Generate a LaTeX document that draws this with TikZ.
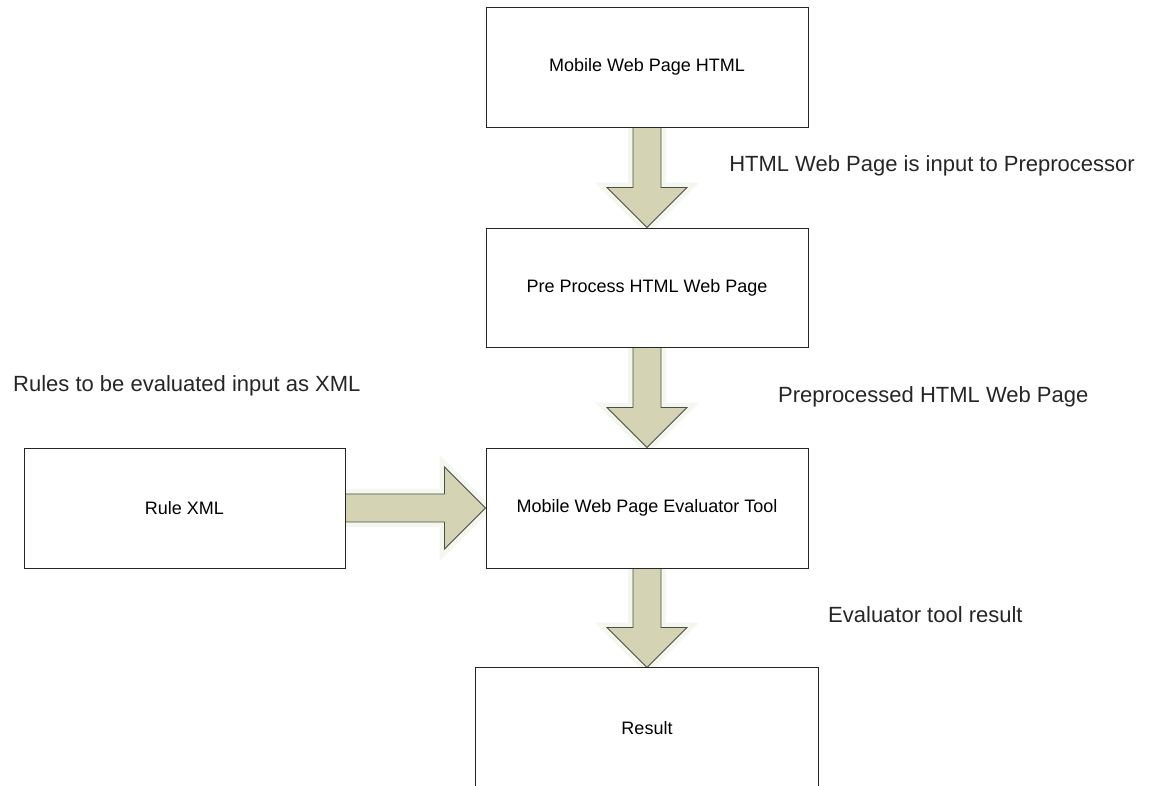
\documentclass[tikz,border=0pt]{standalone}
\usepackage{fontspec}
\setmainfont{Liberation Sans}
\usetikzlibrary{calc,backgrounds}
\definecolor{arrowfill}{RGB}{212,212,180}
\definecolor{arrowglow}{RGB}{243,247,237}
\tikzset{
    box/.style={draw=black!85, fill=white, line width=0.9pt, minimum width=322pt, minimum height=120pt, inner sep=0pt, font=\fontsize{18}{22}\selectfont},
    note/.style={inner sep=0pt, text=black!85, font=\fontsize{22}{26}\selectfont},
    blockarrow/.style={fill=arrowfill, draw=black!70, line width=0.8pt, preaction={draw=arrowglow, line width=10pt}}
}
\newcommand{\blockdown}[2]{%
    \filldraw[blockarrow] ($(#1.south)+(-14,0)$) -- ($(#2.north)+(-14,40)$) -- ($(#2.north)+(-40,40)$) -- (#2.north)
        -- ($(#2.north)+(40,40)$) -- ($(#2.north)+(14,40)$) -- ($(#1.south)+(14,0)$) -- cycle;}
\newcommand{\blockright}[2]{%
    \filldraw[blockarrow] ($(#1.east)+(0,14)$) -- ($(#2.west)+(-41,14)$) -- ($(#2.west)+(-41,41)$) -- (#2.west)
        -- ($(#2.west)+(-41,-41)$) -- ($(#2.west)+(-41,-14)$) -- ($(#1.east)+(0,-14)$) -- cycle;}
\begin{document}
\begin{tikzpicture}[x=1pt, y=1pt]
    \useasboundingbox (0,0) rectangle (1153,786);
    \node[box] (html) at (647,719) {Mobile Web Page HTML};
    \node[box, minimum height=119pt] (prepro) at (647,498.5) {Pre Process HTML Web Page};
    \node[box] (evaluator) at (647,278) {Mobile Web Page Evaluator Tool};
    \node[box, minimum width=321pt] (rulexml) at (184.5,278) {Rule XML};
    \node[box, draw=none, minimum width=342pt] (result) at (647,58) {Result};
    \draw[black!85, line width=0.9pt] (result.south west) -- (result.north west) -- (result.north east) -- (result.south east);

    \begin{scope}[on background layer]
        \blockdown{html}{prepro}
        \blockdown{prepro}{evaluator}
        \blockdown{evaluator}{result}
        \blockright{rulexml}{evaluator}
    \end{scope}

    \node[note, anchor=base east] (lblinput) at (1135,614) {HTML Web Page is input to Preprocessor};
    \node[note, anchor=base west] (lblrules) at (13,394) {Rules to be evaluated input as XML};
    \node[note, anchor=base west] (lblprepro) at (778,383) {Preprocessed HTML Web Page};
    \node[note, anchor=base west] (lblresult) at (828,163) {Evaluator tool result};
\end{tikzpicture}
\end{document}
